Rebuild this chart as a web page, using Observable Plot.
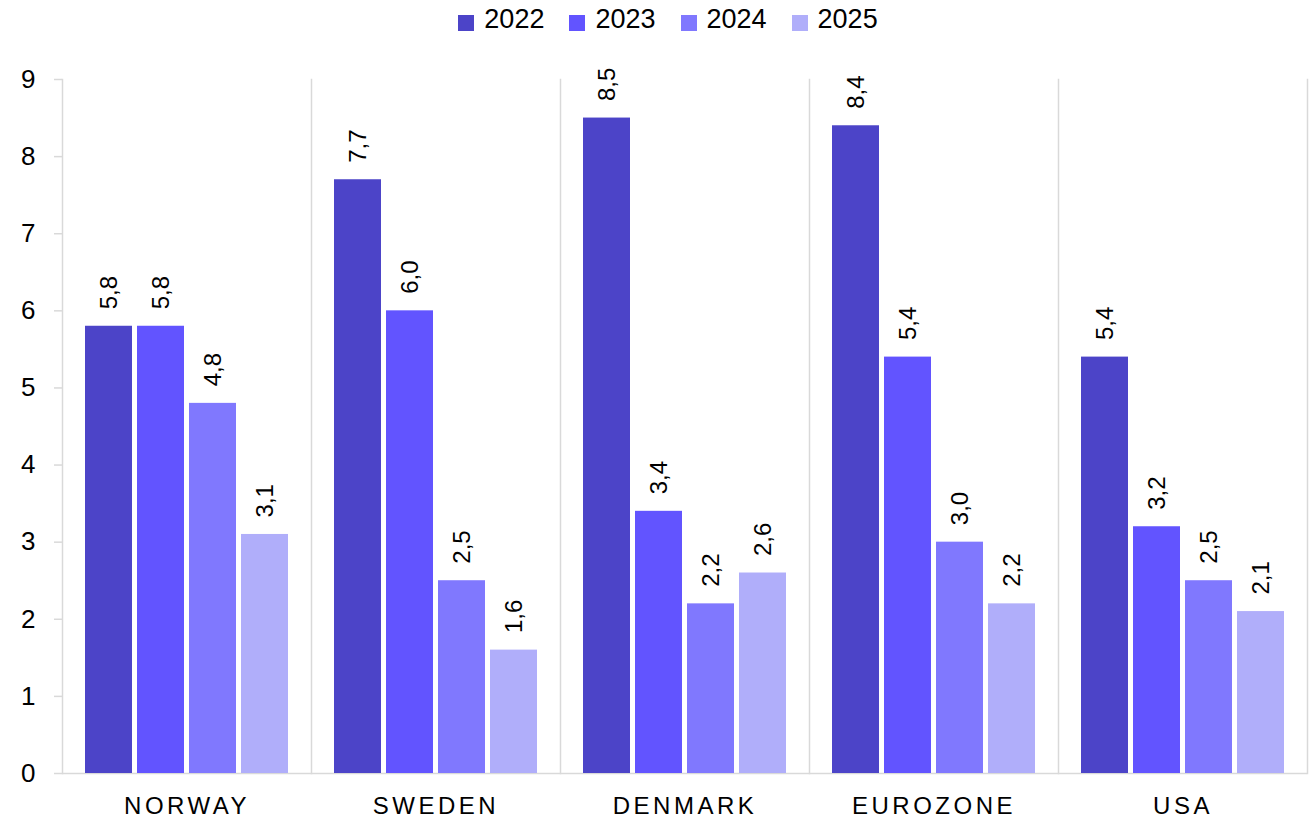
<!DOCTYPE html>
<html>
<head>
<meta charset="utf-8">
<script src="https://cdn.jsdelivr.net/npm/d3@7"></script>
<script src="https://cdn.jsdelivr.net/npm/@observablehq/plot@0.6"></script>
<style>
  html, body { margin: 0; padding: 0; background: #fff; }
  body { width: 1312px; height: 818px; font-family: "Liberation Sans", Arial, sans-serif; }
  #legend { height: 40px; display: flex; justify-content: center; align-items: center; gap: 25px; font-size: 27px; color: #000; padding-left: 24px; }
  #legend .item { display: flex; align-items: center; gap: 10px; }
  #legend .sw { width: 16px; height: 16px; display: inline-block; position: relative; top: 3px; }
  #legend .lb { position: relative; top: -1px; }
  g[aria-label="fx-axis tick label"] text { letter-spacing: 3.5px; }
</style>
</head>
<body>
<div id="legend"></div>
<div id="chart"></div>
<script>
const countries = ["NORWAY", "SWEDEN", "DENMARK", "EUROZONE", "USA"];
const years = ["2022", "2023", "2024", "2025"];
const values2022 = [5.8, 7.7, 8.5, 8.4, 5.4];
const values2023 = [5.8, 6.0, 3.4, 5.4, 3.2];
const values2024 = [4.8, 2.5, 2.2, 3.0, 2.5];
const values2025 = [3.1, 1.6, 2.6, 2.2, 2.1];
const yTicks = [0, 1, 2, 3, 4, 5, 6, 7, 8, 9];
const colors = ["#4c44c8", "#6254ff", "#8078fe", "#b0aefa"];

const series = [values2022, values2023, values2024, values2025];
const data = [];
countries.forEach((c, i) => {
  years.forEach((y, j) => data.push({country: c, year: y, value: series[j][i]}));
});
const fmt = v => v.toFixed(1).replace(".", ",");

// legend
const legend = document.getElementById("legend");
years.forEach((y, j) => {
  const it = document.createElement("div");
  it.className = "item";
  it.innerHTML = `<span class="sw" style="background:${colors[j]}"></span><span class="lb">${y}</span>`;
  legend.appendChild(it);
});

const grid = "#d9d9d9";
const font = "'Liberation Sans', Arial, sans-serif";
const chart = Plot.plot({
  width: 1312,
  height: 778,
  marginTop: 39,
  marginBottom: 45,
  marginLeft: 60,
  marginRight: 4,
  style: {fontFamily: font, fontSize: "25px", color: "#000", background: "#fff", overflow: "visible"},
  fx: {domain: countries, padding: 0, label: null},
  x: {domain: years, paddingInner: 0.1, paddingOuter: 0.42, axis: null},
  y: {domain: [0, 9], label: null},
  color: {domain: years, range: colors},
  marks: [
    Plot.frame({anchor: "left", stroke: grid, strokeWidth: 1.5}),
    Plot.frame({anchor: "right", stroke: grid, strokeWidth: 1.5, facetAnchor: "right"}),
    Plot.ruleY([0], {stroke: grid, strokeWidth: 1.5}),
    Plot.barY(data, {fx: "country", x: "year", y: "value", fill: "year"}),
    Plot.text(data, {fx: "country", x: "year", y: "value", text: d => fmt(d.value), rotate: -90, textAnchor: "start", lineAnchor: "middle", dy: -17, fontSize: 24, fill: "#000"}),
    Plot.axisY({ticks: yTicks, tickSize: 8, tickPadding: 19, stroke: grid, strokeWidth: 1.5, fill: "#000", fontSize: 26, label: null}),
    Plot.axisFx({anchor: "bottom", tickSize: 0, tickPadding: 23, fontSize: 24, fill: "#000", label: null})
  ]
});
document.getElementById("chart").appendChild(chart);
</script>
</body>
</html>
